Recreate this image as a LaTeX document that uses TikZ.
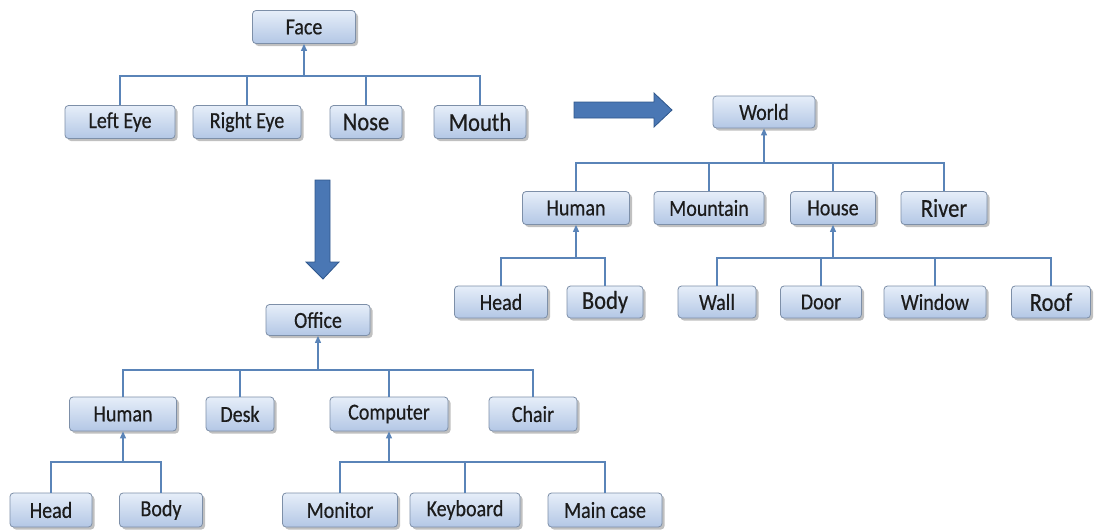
\documentclass[tikz,border=0pt]{standalone}
\usepackage{fontspec}
\usepackage{graphicx}
\setmainfont{Carlito}
\newfontfamily\boxfont{Carlito}[FakeBold=0.5]
\usetikzlibrary{shadows,arrows.meta}

\definecolor{boxtop}{HTML}{E6EEF9}
\definecolor{boxbot}{HTML}{B3C7E5}
\definecolor{boxline}{HTML}{7D8FA8}
\definecolor{linkcol}{HTML}{5A84B8}
\definecolor{bigfill}{HTML}{4A77B4}
\definecolor{bigline}{HTML}{2F578C}
\definecolor{ink}{HTML}{1C1C1C}

% box labels are set slightly taller than wide
\newcommand{\lbl}[1]{\scalebox{1}[1.15]{#1}}

\tikzset{
  box/.style={draw=boxline, line width=0.8pt, rounded corners=3.5pt,
    top color=boxtop, bottom color=boxbot, minimum height=33pt,
    inner sep=0pt, text=ink, font=\boxfont\fontsize{20}{22}\selectfont,
    drop shadow={shadow xshift=2.5pt, shadow yshift=-2.5pt,
      fill=black!55, opacity=0.45}},
  bigtxt/.style={font=\boxfont\fontsize{22.5}{24}\selectfont},
  link/.style={draw=linkcol, line width=1.1pt},
  up/.style={link, -{Triangle[width=6pt,length=7pt]}},
  bigarrow/.style={fill=bigfill, draw=bigline, line width=0.8pt}
}

\begin{document}
\begin{tikzpicture}[x=1pt, y=-1pt]
\useasboundingbox (0,0) rectangle (1094,531);

% ---- Face tree ----
\node[box, minimum width=103pt] (face) at (304,27) {\lbl{Face}};
\node[box, minimum width=110pt] (leye) at (120,122) {\lbl{Left Eye}};
\node[box, minimum width=108pt] (reye) at (247,122) {\lbl{Right Eye}};
\node[box, bigtxt, minimum width=72pt] (nose) at (366,122) {\lbl{Nose}};
\node[box, bigtxt, minimum width=92pt] (mouth) at (480,122) {\lbl{Mouth}};
\draw[link] (leye.north) -- (leye.north |- 0,76) -| (mouth.north);
\draw[link] (reye.north) -- (reye.north |- 0,76);
\draw[link] (nose.north) -- (nose.north |- 0,76);
\draw[up] (face.south |- 0,76) -- (face.south);

% ---- World tree ----
\node[box, minimum width=102pt, minimum height=32pt] (world) at (764,112) {\lbl{World}};
\node[box, minimum width=107pt] (whuman) at (576,208) {\lbl{Human}};
\node[box, minimum width=110pt] (mountain) at (709,208) {\lbl{Mountain}};
\node[box, minimum width=85pt] (house) at (833,208) {\lbl{House}};
\node[box, bigtxt, minimum width=86pt] (river) at (944,208) {\lbl{River}};
\draw[link] (whuman.north) -- (whuman.north |- 0,163) -| (river.north);
\draw[link] (mountain.north) -- (mountain.north |- 0,163);
\draw[link] (house.north) -- (house.north |- 0,163);
\draw[up] (world.south |- 0,163) -- (world.south);

\node[box, minimum width=93pt, minimum height=32pt] (whead) at (501,302) {\lbl{Head}};
\node[box, bigtxt, minimum width=76pt, minimum height=32pt] (wbody) at (605,302) {\lbl{Body}};
\draw[link] (whead.north) -- (whead.north |- 0,258) -| (wbody.north);
\draw[up] (whuman.south |- 0,258) -- (whuman.south);

\node[box, minimum width=78pt, minimum height=32pt] (wall) at (717,302) {\lbl{Wall}};
\node[box, minimum width=81pt, minimum height=32pt] (door) at (821,302) {\lbl{Door}};
\node[box, minimum width=102pt, minimum height=32pt] (window) at (935,302) {\lbl{Window}};
\node[box, bigtxt, minimum width=79pt, minimum height=32pt] (roof) at (1051,302) {\lbl{Roof}};
\draw[link] (wall.north) -- (wall.north |- 0,258) -| (roof.north);
\draw[link] (door.north) -- (door.north |- 0,258);
\draw[link] (window.north) -- (window.north |- 0,258);
\draw[up] (house.south |- 0,258) -- (house.south);

% ---- Office tree ----
\node[box, minimum width=104pt, minimum height=31pt] (office) at (318,320) {\lbl{Office}};
\node[box, minimum width=107pt, minimum height=34pt] (ohuman) at (123,414) {\lbl{Human}};
\node[box, minimum width=68pt, minimum height=34pt] (desk) at (240,414) {\lbl{Desk}};
\node[box, minimum width=118pt, minimum height=34pt] (computer) at (389,414) {\lbl{Computer}};
\node[box, minimum width=88pt, minimum height=34pt] (chair) at (533,414) {\lbl{Chair}};
\draw[link] (ohuman.north) -- (ohuman.north |- 0,370) -| (chair.north);
\draw[link] (desk.north) -- (desk.north |- 0,370);
\draw[link] (computer.north) -- (computer.north |- 0,370);
\draw[up] (office.south |- 0,370) -- (office.south);

\node[box, minimum width=82pt, minimum height=34pt] (ohead) at (51,510) {\lbl{Head}};
\node[box, minimum width=83pt, minimum height=34pt] (obody) at (161,510) {\lbl{Body}};
\draw[link] (ohead.north) -- (ohead.north |- 0,462) -| (obody.north);
\draw[up] (ohuman.south |- 0,462) -- (ohuman.south);

\node[box, minimum width=115pt, minimum height=34pt] (monitor) at (340,510) {\lbl{Monitor}};
\node[box, minimum width=110pt, minimum height=34pt] (keyboard) at (465,510) {\lbl{Keyboard}};
\node[box, minimum width=114pt, minimum height=34pt] (maincase) at (605,510) {\lbl{Main case}};
\draw[link] (monitor.north) -- (monitor.north |- 0,462) -| (maincase.north);
\draw[link] (keyboard.north) -- (keyboard.north |- 0,462);
\draw[up] (computer.south |- 0,462) -- (computer.south);

% ---- block arrows between the trees ----
\draw[bigarrow] (574,102) -- (654,102) -- (654,93) -- (672,110)
  -- (654,127) -- (654,118) -- (574,118) -- cycle;
\draw[bigarrow] (315,180) -- (330,180) -- (330,262) -- (339,262) -- (323,279)
  -- (306,262) -- (315,262) -- cycle;
\end{tikzpicture}
\end{document}
